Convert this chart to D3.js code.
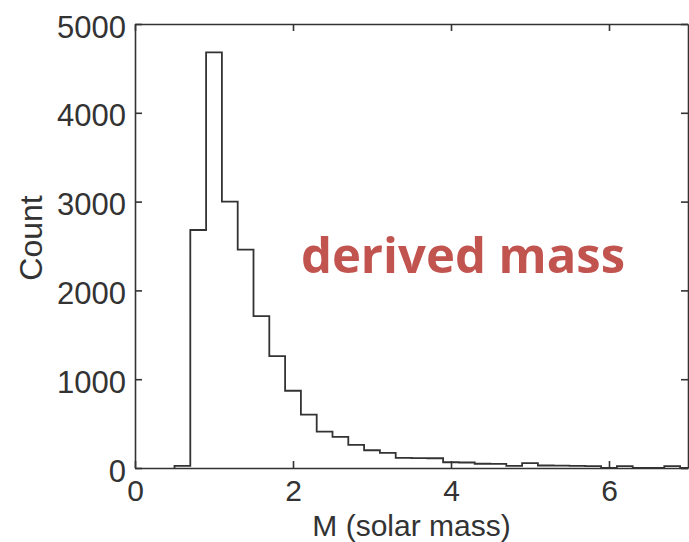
<!DOCTYPE html>
<html>
<head>
<meta charset="utf-8">
<script src="https://cdn.jsdelivr.net/npm/d3@7/dist/d3.min.js"></script>
<style>
  html, body { margin: 0; padding: 0; background: #fff; }
  svg { display: block; }
</style>
</head>
<body>
<svg id="chart" width="689" height="542"></svg>
<script>
// Histogram of derived stellar masses (bins 0.2 solar masses wide)
const binStart = [0.5, 0.7, 0.9, 1.1, 1.3, 1.5, 1.7, 1.9, 2.1, 2.3, 2.5, 2.7, 2.9,
                  3.1, 3.3, 3.5, 3.7, 3.9, 4.1, 4.3, 4.5, 4.7, 4.9, 5.1, 5.3, 5.5,
                  5.7, 5.9, 6.1, 6.3, 6.5, 6.7, 6.9];
const binEnd   = [0.7, 0.9, 1.1, 1.3, 1.5, 1.7, 1.9, 2.1, 2.3, 2.5, 2.7, 2.9, 3.1,
                  3.3, 3.5, 3.7, 3.9, 4.1, 4.3, 4.5, 4.7, 4.9, 5.1, 5.3, 5.5, 5.7,
                  5.9, 6.1, 6.3, 6.5, 6.7, 6.9, 7.0];
const counts   = [25, 2680, 4680, 3000, 2460, 1710, 1260, 870, 600, 410, 350, 260, 200,
                  170, 115, 112, 110, 65, 62, 48, 46, 25, 55, 28, 26, 24,
                  22, 0, 22, 0, 0, 22, 0];

const xTicks = [0, 2, 4, 6];
const yTicks = [0, 1000, 2000, 3000, 4000, 5000];
const xDomain = [0, 7];
const yDomain = [0, 5000];

const xTitle = "M (solar mass)";
const yTitle = "Count";
const note = "derived mass";

const svg = d3.select("#chart");
const plotL = 135, plotR = 688, plotT = 24, plotB = 468;

const x = d3.scaleLinear().domain(xDomain).range([plotL, plotR]);
const y = d3.scaleLinear().domain(yDomain).range([plotB, plotT]);

const ink = "#333";
const textInk = "#333";
const font = "'Liberation Sans', Arial, Helvetica, sans-serif";

// Histogram outline as a single stepped path
const pts = [[binStart[0], 0]];
counts.forEach((c, i) => {
  pts.push([binStart[i], c]);
  pts.push([binEnd[i], c]);
});
pts.push([binEnd[binEnd.length - 1], 0]);

svg.append("path")
  .datum(pts)
  .attr("fill", "none")
  .attr("stroke", ink)
  .attr("stroke-width", 1.8)
  .attr("stroke-linejoin", "miter")
  .attr("d", d3.line().x(d => x(d[0])).y(d => y(d[1])));

// Axes with inward ticks on all four sides
const tickLen = -7;
function styleAxis(g, showText, size) {
  g.select(".domain").attr("stroke", ink).attr("stroke-width", 1.6);
  g.selectAll(".tick line").attr("stroke", ink).attr("stroke-width", 1.6);
  g.selectAll(".tick text")
    .attr("fill", textInk)
    .attr("font-family", font)
    .attr("font-size", size || 31);
  if (!showText) g.selectAll(".tick text").remove();
}

svg.append("g")
  .attr("transform", `translate(0,${plotB})`)
  .call(d3.axisBottom(x).tickValues(xTicks).tickFormat(d3.format("d"))
        .tickSize(tickLen).tickSizeOuter(0).tickPadding(12))
  .call(g => styleAxis(g, true, 30));

svg.append("g")
  .attr("transform", `translate(0,${plotT})`)
  .call(d3.axisTop(x).tickValues(xTicks).tickSize(tickLen).tickSizeOuter(0))
  .call(g => styleAxis(g, false));

svg.append("g")
  .attr("transform", `translate(${plotL},0)`)
  .call(d3.axisLeft(y).tickValues(yTicks).tickFormat(d3.format("d"))
        .tickSize(tickLen).tickSizeOuter(0).tickPadding(9))
  .call(g => styleAxis(g, true, 31))
  .call(g => g.selectAll(".tick text").attr("dy", "0.42em"));

svg.append("g")
  .attr("transform", `translate(${plotR},0)`)
  .call(d3.axisRight(y).tickValues(yTicks).tickSize(tickLen).tickSizeOuter(0))
  .call(g => styleAxis(g, false));

// Axis titles
svg.append("text")
  .attr("x", (plotL + plotR) / 2)
  .attr("y", 535.5)
  .attr("text-anchor", "middle")
  .attr("font-family", font)
  .attr("font-size", 30)
  .attr("fill", textInk)
  .text(xTitle);

svg.append("text")
  .attr("transform", `translate(42,${(plotT + plotB) / 2 - 8}) rotate(-90)`)
  .attr("text-anchor", "middle")
  .attr("font-family", font)
  .attr("font-size", 32)
  .attr("fill", textInk)
  .text(yTitle);

// Annotation inside the plot
svg.append("text")
  .attr("x", x(2.1))
  .attr("y", y(2200))
  .attr("font-family", "'Open Sans', 'Noto Sans', sans-serif")
  .attr("font-weight", "bold")
  .attr("font-size", 49)
  .attr("fill", "#c25450")
  .text(note);
</script>
</body>
</html>
